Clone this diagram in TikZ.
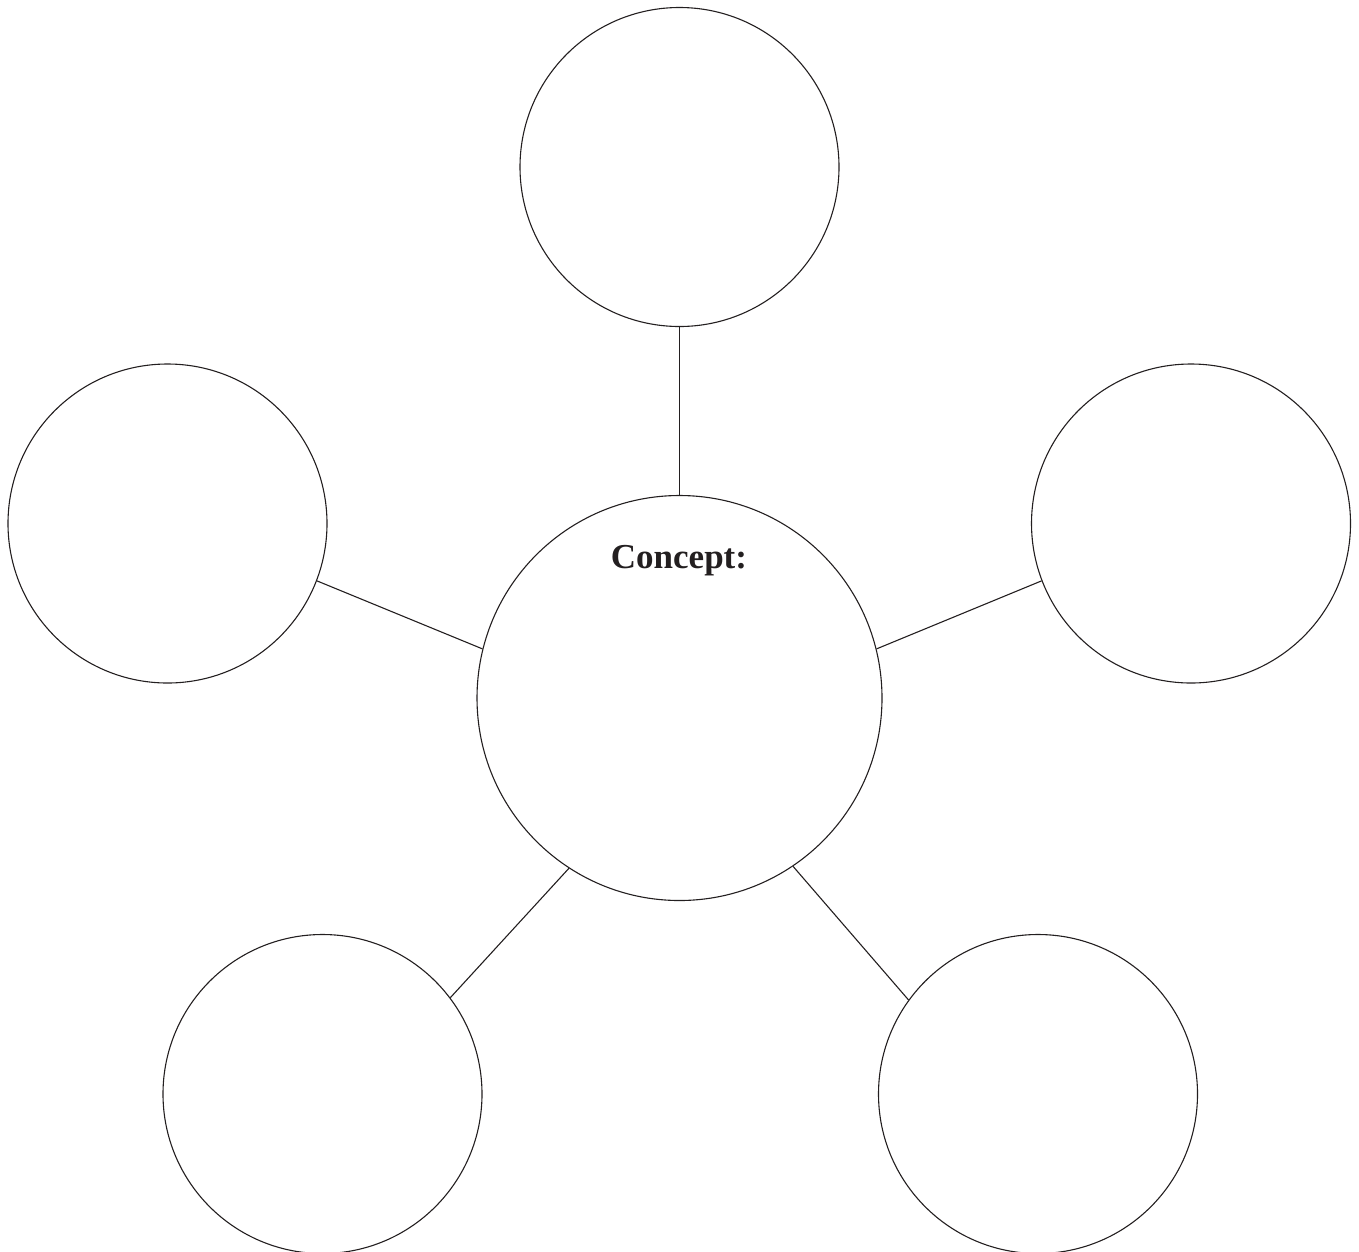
\documentclass[tikz,border=0pt]{standalone}
\usepackage{fontspec}
\setmainfont{Liberation Serif}
\definecolor{ink}{HTML}{231F20}
\begin{document}
\begin{tikzpicture}[x=1pt,y=-1pt,
  bubble/.style={circle,draw=ink,line width=1.1pt,minimum size=#1,inner sep=0pt},
  link/.style={draw=ink,line width=1.1pt}]
\useasboundingbox (0,0) rectangle (1359,1251);
\clip (0,0) rectangle (1359,1251);
\node[bubble=405pt] (c) at (679.5,698) {};
\node[bubble=319pt] (t) at (679.5,167) {};
\node[bubble=319pt] (l) at (167.5,523.5) {};
\node[bubble=319pt] (r) at (1191,523.5) {};
\node[bubble=319pt] (bl) at (322.5,1094) {};
\node[bubble=319pt] (br) at (1038,1094) {};
\node[font=\fontsize{35}{40}\selectfont\bfseries,text=ink,anchor=base] (lab) at (679,568) {Concept:};
\draw[link] (c.north) -- (t.south);
\draw[link] (c.166) -- (l.-21.5);
\draw[link] (c.14.2) -- (r.201.4);
\draw[link] (c.-123.5) -- (bl.37.3);
\draw[link] (c.-56.6) -- (br.144.4);
\end{tikzpicture}
\end{document}
